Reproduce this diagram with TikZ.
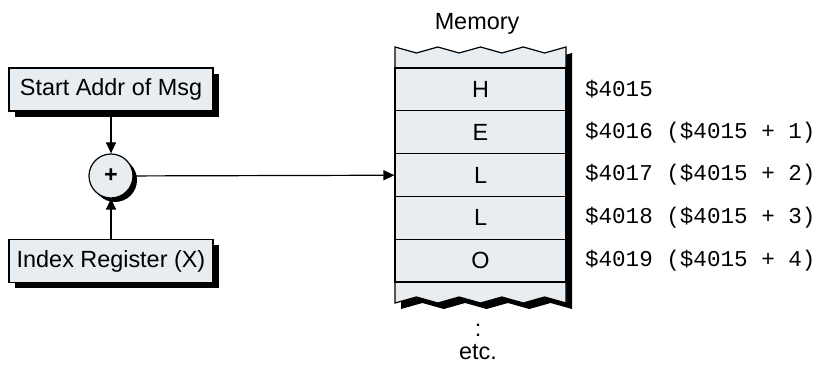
\documentclass[tikz,border=0pt]{standalone}
\usepackage{fontspec}
\setmainfont{Liberation Sans}
\newfontfamily\addrfont{Liberation Mono}
\usetikzlibrary{positioning,arrows.meta,shadows}
\definecolor{cellfill}{RGB}{231,237,241}
\tikzset{
  txt/.style={font=\fontsize{11.7}{14}\selectfont},
  regbox/.style={txt,draw,line width=0.6pt,fill=cellfill,inner sep=0pt,
            minimum width=102pt,minimum height=21.5pt,
            drop shadow={shadow xshift=3pt,shadow yshift=-3pt,fill=black,opacity=1}},
  adder/.style={txt,circle,draw,line width=0.6pt,fill=cellfill,inner sep=0pt,
            minimum size=22pt,
            drop shadow={shadow xshift=2pt,shadow yshift=-2pt,fill=black,opacity=1}},
  memcell/.style={txt,draw,line width=0.6pt,fill=cellfill,inner sep=0pt,
            minimum width=85.5pt,minimum height=21.4pt},
  addr/.style={font=\addrfont\fontsize{11.3}{13}\selectfont,inner sep=0pt},
  feed/.style={-{Triangle[length=5.5pt,width=5pt]},line width=0.6pt},
}
\newcommand\memblock{(395,47) -- (416.4,53) -- (437.8,47) -- (459.1,53) -- (480.5,47)
  -- (501.9,53) -- (523.3,47) -- (544.6,53) -- (566,47) -- (566,303)
  -- (544.6,297) -- (523.3,303) -- (501.9,297) -- (480.5,303) -- (459.1,297)
  -- (437.8,303) -- (416.4,297) -- (395,303) -- cycle}
\begin{document}
\begin{tikzpicture}[x=0.5pt,y=-0.5pt]
  \useasboundingbox (0,0) rectangle (822,367);
  % memory column with its shadow
  \fill[black,shift={(6,6)}] \memblock;
  \draw[line width=0.6pt,fill=cellfill] \memblock;
  \foreach \ch [count=\i] in {H,E,L,L,O}
    \node[memcell] (cell\i) at (480.5,46.6+42.8*\i) {\ch};
  \node[txt,anchor=base] (memtitle) at (477,30) {Memory};
  \node[txt] (dots) at (478,330) {:};
  \node[txt] (etc) at (478,352) {etc.};
  % addresses
  \node[addr,right=9pt of cell1.east] (addr1) {\$4015};
  \foreach \i [evaluate=\i as \n using int(\i+4),
               evaluate=\i as \d using int(\i-1)] in {2,...,5}
    \node[addr,right=9pt of cell\i.east] (addr\i) {\$401\n\ (\$4015 + \d)};
  % address calculation
  \node[regbox] (start) at (111,89.5) {Start Addr of Msg};
  \node[regbox] (index) at (111,261) {Index Register (X)};
  \node[adder] (sum) at (111,176) {\textbf{+}};
  \draw[feed] (start) -- (sum);
  \draw[feed] (index) -- (sum);
  \draw[feed] (sum) -- (cell3);
\end{tikzpicture}
\end{document}
